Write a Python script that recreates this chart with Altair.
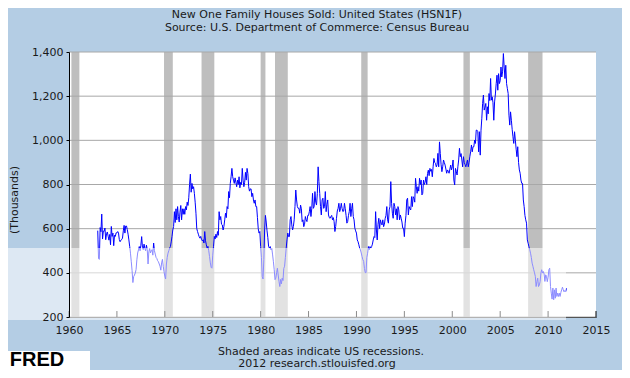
import altair as alt
import pandas as pd

title_1 = "New One Family Houses Sold: United States (HSN1F)"
title_2 = "Source: U.S. Department of Commerce: Census Bureau"
y_title = "(Thousands)"
footer_1 = "Shaded areas indicate US recessions."
footer_2 = "2012 research.stlouisfed.org"
logo_text = "FRED"

# monthly values (thousands, SAAR), Jan 1963 .. Dec 2011
start_year = 1963
sales_1960s = [
    591, 464, 461, 605, 586, 666, 553, 589, 588, 603, 550, 577,
    585, 566, 548, 574, 527, 610, 565, 580, 523, 570, 565, 581,
    581, 587, 580, 551, 541, 548, 551, 557, 590, 615, 580, 612,
    612, 596, 575, 549, 520, 489, 450, 410, 356, 383, 390, 399,
    415, 459, 490, 504, 519, 500, 525, 564, 515, 505, 530, 510,
    500, 525, 505, 440, 495, 510, 490, 500, 505, 480, 535, 500,
    485, 470, 465, 455, 450, 440, 430, 412, 445, 461, 430, 405,
]
sales_1970s = [
    385, 372, 440, 470, 489, 500, 512, 519, 540, 565, 594, 610,
    677, 628, 690, 640, 700, 655, 630, 675, 705, 640, 690, 665,
    690, 665, 700, 685, 720, 705, 740, 800, 847, 765, 805, 780,
    790, 760, 720, 670, 600, 587, 575, 564, 557, 565, 550, 545,
    550, 535, 587, 545, 527, 512, 520, 500, 474, 445, 425, 421,
    480, 520, 565, 553, 575, 560, 587, 570, 677, 640, 655, 620,
    617, 594, 610, 640, 670, 650, 700, 690, 768, 740, 805, 835,
    873, 835, 820, 805, 830, 810, 790, 820, 800, 835, 785, 810,
    800, 873, 820, 790, 810, 855, 820, 873, 850, 790, 770, 780,
    780, 745, 760, 730, 715, 730, 700, 700, 650, 600, 580, 587,
]
sales_1980s = [
    519, 470, 383, 372, 460, 594, 660, 630, 590, 560, 519, 512,
    519, 504, 510, 481, 450, 414, 369, 376, 400, 421, 390, 361,
    338, 370, 350, 376, 365, 420, 430, 470, 512, 549, 580, 564,
    564, 640, 655, 617, 594, 610, 640, 700, 775, 730, 700, 692,
    692, 670, 707, 690, 632, 640, 609, 620, 655, 640, 632, 660,
    660, 677, 700, 655, 690, 760, 692, 700, 768, 720, 707, 760,
    880, 813, 760, 700, 662, 730, 738, 692, 700, 768, 677, 710,
    730, 662, 650, 647, 655, 660, 640, 650, 632, 587, 610, 647,
    680, 692, 715, 677, 690, 715, 692, 677, 680, 715, 690, 660,
    625, 632, 660, 677, 715, 655, 690, 715, 655, 640, 602, 590,
]
sales_1990s = [
    580, 549, 541, 527, 512, 504, 490, 474, 460, 452, 420, 401,
    401, 470, 489, 519, 505, 519, 512, 519, 530, 549, 564, 560,
    677, 594, 549, 620, 647, 600, 640, 625, 617, 640, 609, 620,
    647, 660, 700, 640, 625, 685, 700, 813, 715, 670, 647, 715,
    700, 662, 690, 640, 700, 685, 640, 662, 647, 630, 602, 602,
    564, 625, 660, 730, 738, 662, 700, 690, 685, 745, 700, 745,
    738, 720, 828, 790, 760, 790, 770, 828, 800, 820, 753, 760,
    820, 800, 810, 835, 800, 850, 865, 840, 873, 860, 868, 835,
    880, 918, 900, 896, 880, 890, 941, 880, 993, 941, 890, 858,
    880, 911, 900, 888, 870, 851, 866, 860, 851, 870, 888, 866,
]
sales_2000s = [
    880, 911, 820, 798, 873, 860, 843, 880, 911, 964, 926, 940,
    911, 880, 926, 900, 890, 880, 896, 911, 880, 900, 926, 948,
    979, 948, 971, 971, 1001, 986, 1046, 1046, 1039, 948, 1039, 933,
    1046, 1100, 1167, 1205, 1137, 1150, 1167, 1091, 1152, 1120, 1212, 1180,
    1280, 1182, 1197, 1170, 1091, 1174, 1210, 1257, 1295, 1227, 1302, 1257,
    1270, 1332, 1287, 1310, 1393, 1332, 1280, 1340, 1257, 1234, 1212, 1114,
    1069, 1129, 1091, 1050, 1016, 986, 1039, 1001, 960, 926, 971, 900,
    866, 851, 820, 805, 805, 730, 700, 660, 640, 625, 549, 534,
    519, 505, 489, 470, 444, 430, 414, 400, 384, 338, 360, 376,
    338, 345, 360, 399, 414, 399, 406, 395, 361, 391, 384, 360,
]
sales_2010s = [
    380, 414, 421, 338, 308, 281, 331, 278, 323, 285, 331, 293,
    308, 293, 308, 293, 311, 323, 335, 323, 314, 320, 315, 330,
]

rec_start = ["1960-04", "1969-12", "1973-11", "1980-01", "1981-07", "1990-07", "2001-03", "2007-12"]
rec_end = ["1961-02", "1970-11", "1975-03", "1980-07", "1982-11", "1991-03", "2001-11", "2009-06"]

x_ticks = [1960, 1965, 1970, 1975, 1980, 1985, 1990, 1995, 2000, 2005, 2010, 2015]
y_ticks = [200, 400, 600, 800, 1000, 1200, 1400]
y_min, y_max = 200, 1400
tick_top = 227  # inward tick length in data units

FONT = "DejaVu Sans"
TXT = "#1a1a1a"
W, H = 527, 265


def to_dec(s):
    y, m = s.split("-")
    return int(y) + (int(m) - 1) / 12


sales = sales_1960s + sales_1970s + sales_1980s + sales_1990s + sales_2000s + sales_2010s
df = pd.DataFrame({"t": [start_year + i / 12 for i in range(len(sales))], "v": sales})
rec = pd.DataFrame({
    "s": [to_dec(s) for s in rec_start],
    "e": [to_dec(e) for e in rec_end],
    "lo": [y_min] * len(rec_start),
    "hi": [y_max] * len(rec_start),
})
grid = pd.DataFrame({"g": y_ticks})
ticks = pd.DataFrame({"tk": x_ticks, "lo": [y_min] * len(x_ticks), "hi": [tick_top] * len(x_ticks)})

xs = alt.Scale(domain=[1960, 2015], nice=False, zero=False)
ys = alt.Scale(domain=[200, 1400], nice=False, zero=False)

xaxis = alt.Axis(
    values=x_ticks, format="d", grid=False, ticks=False, title=None,
    domainColor="black", labelPadding=7, labelFontSize=11, labelFont=FONT,
    labelColor=TXT, labelFlush=False, labelOverlap=False)
yaxis = alt.Axis(
    values=y_ticks, format=",d", grid=False, title=None, zindex=1,
    domainColor="black", tickColor="black", tickSize=3, labelPadding=3,
    labelFontSize=11, labelFont=FONT, labelColor=TXT)

recess = alt.Chart(rec).mark_rect(color="#BEBEBE").encode(
    x=alt.X("s:Q", scale=xs, axis=xaxis), x2="e:Q",
    y=alt.Y("hi:Q", scale=ys, axis=yaxis), y2="lo:Q",
)

gridlines = alt.Chart(grid).mark_rule(color="#A8A8A8", strokeWidth=1).encode(
    y=alt.Y("g:Q", scale=ys, axis=yaxis)
)

xtick = alt.Chart(ticks).mark_rule(color="black", strokeWidth=1).encode(
    x=alt.X("tk:Q", scale=xs, axis=xaxis),
    y=alt.Y("lo:Q", scale=ys, axis=yaxis), y2="hi:Q",
)

line = alt.Chart(df).mark_line(color="#0000FF", strokeWidth=1).encode(
    x=alt.X("t:Q", scale=xs, axis=xaxis),
    y=alt.Y("v:Q", scale=ys, axis=yaxis),
)

one = pd.DataFrame({"a": [0]})

band = alt.Chart(one).mark_rect(color="white", opacity=0.55).encode(
    x=alt.value(-61), x2=alt.value(497), y=alt.value(196), y2=alt.value(268)
)


def label(text, x, y, size=11, weight="normal", font=FONT, angle=0, color=TXT):
    return alt.Chart(pd.DataFrame({"t": [text]})).mark_text(
        font=font, fontSize=size, fontWeight=weight, color=color,
        align="center", baseline="middle", angle=angle,
    ).encode(text="t:N", x=alt.value(x), y=alt.value(y))


logo_box = alt.Chart(one).mark_rect(color="white").encode(
    x=alt.value(-61), x2=alt.value(21), y=alt.value(299), y2=alt.value(322)
)

chart = alt.layer(
    recess,
    gridlines,
    xtick,
    line,
    band,
    label(title_1, 248, -37),
    label(title_2, 248, -24),
    label(y_title, -54, 148, angle=270),
    label(footer_1, 252, 300),
    label(footer_2, 248, 312),
    logo_box,
    label(logo_text, -32, 308, size=20, weight="bold", font="Liberation Sans", color="black"),
).properties(
    width=W, height=H,
    padding={"left": 61, "top": 44, "right": 26, "bottom": 53},
    autosize=alt.AutoSizeParams(type="none"),
    background="#B4CDE4",
).configure_view(fill="white", strokeWidth=0)

chart.save("out.html", embed_options={"renderer": "svg", "actions": False})
